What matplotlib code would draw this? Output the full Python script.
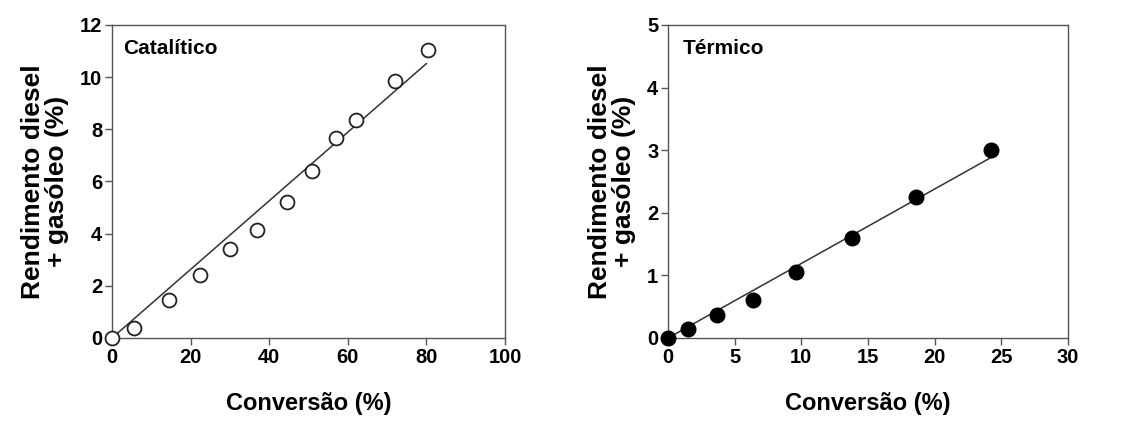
import numpy as np
import matplotlib.pyplot as plt

plt.rcParams['font.family'] = ['Liberation Sans', 'DejaVu Sans']
plt.rcParams['font.weight'] = 'bold'

# Catalítico
conv_cat = [0, 5.5, 14.5, 22.5, 30, 37, 44.5, 51, 57, 62, 72, 80.5]
rend_cat = [0, 0.4, 1.45, 2.4, 3.4, 4.15, 5.2, 6.4, 7.65, 8.35, 9.85, 11.05]
fit_cat_x = [0, 80]
fit_cat_slope = 0.1315

# Térmico
conv_ter = [0, 1.5, 3.7, 6.4, 9.6, 13.8, 18.6, 24.2]
rend_ter = [0, 0.15, 0.37, 0.6, 1.05, 1.6, 2.25, 3.0]
fit_ter_x = [0, 24.2]
fit_ter_slope = 0.119

fig = plt.figure(figsize=(11.28, 4.28), dpi=100)
ax1 = fig.add_axes([0.0993, 0.2103, 0.3484, 0.7313])
ax2 = fig.add_axes([0.5922, 0.2103, 0.3546, 0.7313])

ax1.plot(fit_cat_x, np.array(fit_cat_x) * fit_cat_slope, color='#333333', lw=1.1, zorder=2)
ax1.plot(conv_cat, rend_cat, 'o', ms=10, mfc='white', mec='#222222', mew=1.3, zorder=3, clip_on=False)
ax1.set_xlim(0, 100)
ax1.set_ylim(0, 12)
ax1.set_xticks([0, 20, 40, 60, 80, 100])
ax1.set_yticks([0, 2, 4, 6, 8, 10, 12])
ax1.text(0.028, 0.925, 'Catalítico', transform=ax1.transAxes, fontsize=15, fontweight='bold', va='center')

ax2.plot(fit_ter_x, np.array(fit_ter_x) * fit_ter_slope, color='#333333', lw=1.1, zorder=2)
ax2.plot(conv_ter, rend_ter, 'o', ms=10.5, mfc='black', mec='black', zorder=3, clip_on=False)
ax2.set_xlim(0, 30)
ax2.set_ylim(0, 5)
ax2.set_xticks([0, 5, 10, 15, 20, 25, 30])
ax2.set_yticks([0, 1, 2, 3, 4, 5])
ax2.text(0.038, 0.925, 'Térmico', transform=ax2.transAxes, fontsize=15, fontweight='bold', va='center')

for ax in (ax1, ax2):
    for s in ax.spines.values():
        s.set_color('#555555')
        s.set_linewidth(1.0)
    ax.tick_params(direction='out', length=5, width=1, colors='#555555',
                   labelcolor='black', labelsize=14.5, pad=2)
    for lab in ax.get_xticklabels() + ax.get_yticklabels():
        lab.set_fontweight('bold')
    ax.set_xlabel('Conversão (%)', fontsize=17, fontweight='bold', labelpad=18)
    ax.set_ylabel('Rendimento diesel\n+ gasóleo (%)', fontsize=19, fontweight='bold', labelpad=8,
                  linespacing=1.0)

fig.savefig('out.png', dpi=100)
